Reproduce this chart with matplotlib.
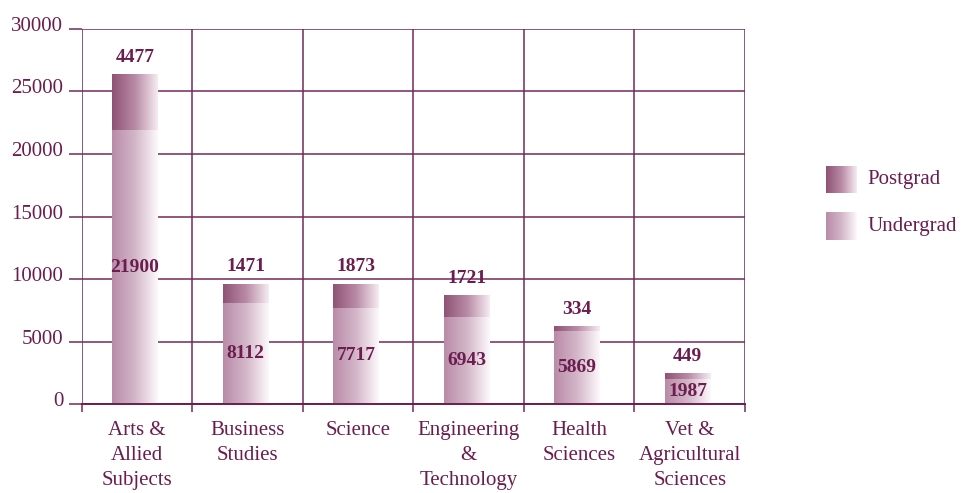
import numpy as np
import matplotlib.pyplot as plt
from matplotlib.colors import LinearSegmentedColormap
from matplotlib.transforms import ScaledTranslation

categories = ['Arts &\nAllied\nSubjects', 'Business\nStudies', 'Science',
              'Engineering\n&\nTechnology', 'Health\nSciences',
              'Vet &\nAgricultural\nSciences']
undergrad = [21900, 8112, 7717, 6943, 5869, 1987]
postgrad = [4477, 1471, 1873, 1721, 334, 449]
yticks = [0, 5000, 10000, 15000, 20000, 25000, 30000]

purple = '#6b1d4f'
line_c = '#74295a'
pg_cmap = LinearSegmentedColormap.from_list('pg', ['#8f5275', '#b88aa5', '#f6ecf2'])
ug_cmap = LinearSegmentedColormap.from_list('ug', ['#b98ba8', '#d3b6c8', '#fdf9fb'])

plt.rcParams['font.family'] = ['Liberation Serif', 'DejaVu Serif']

fig = plt.figure(figsize=(9.68, 4.93), dpi=100)
ax = fig.add_axes([0.0847, 0.1805, 0.6849, 0.7607])

x = np.arange(len(categories))
w = 0.41
grad = np.linspace(0, 1, 256).reshape(1, -1)

ub = ax.bar(x - 0.02, undergrad, w, color='none', edgecolor='none', zorder=3)
pb = ax.bar(x - 0.02, postgrad, w, bottom=undergrad, color='none', edgecolor='none', zorder=3)

for bars, cm in ((ub, ug_cmap), (pb, pg_cmap)):
    for b in bars:
        x0, y0 = b.get_x(), b.get_y()
        ax.imshow(grad, cmap=cm, aspect='auto', zorder=3,
                  extent=[x0, x0 + b.get_width(), y0, y0 + b.get_height()])

for i in range(len(categories)):
    ax.text(x[i] - 0.02, undergrad[i] / 2, str(undergrad[i]), ha='center', va='center',
            fontsize=14, fontweight='bold', color=purple, zorder=5)
    ax.text(x[i] - 0.02, undergrad[i] + postgrad[i] + 700, str(postgrad[i]), ha='center',
            va='bottom', fontsize=14, fontweight='bold', color=purple, zorder=5)

ax.set_xlim(-0.5, len(categories) - 0.5)
ax.set_ylim(0, 30000)
ax.set_yticks(yticks)
ax.set_yticklabels([str(v) for v in yticks])
ax.set_xticks(x)
ax.set_xticklabels(categories, linespacing=1.45)
ax.set_xticks(np.arange(len(categories) + 1) - 0.5, minor=True)

ax.grid(axis='y', color=line_c, lw=1.1, zorder=1)
ax.grid(axis='x', which='minor', color=line_c, lw=1.1, zorder=1)
ax.set_axisbelow(True)
for s in ['top', 'right', 'left']:
    ax.spines[s].set_visible(False)
ax.spines['bottom'].set_color(purple)
ax.spines['bottom'].set_linewidth(1.4)
ax.spines['bottom'].set_zorder(4)

ax.tick_params(axis='y', length=9.5, width=1.1, color=line_c, labelcolor=purple,
               labelsize=15, pad=4)
ax.tick_params(axis='x', which='major', length=0, labelcolor=purple, labelsize=15, pad=12)
ax.tick_params(axis='x', which='minor', length=6, width=1.1, color=line_c)

off = ScaledTranslation(0, 5 / 100, fig.dpi_scale_trans)
for lab in ax.get_yticklabels():
    lab.set_transform(lab.get_transform() + off)

# legend
for (yb, cm, name) in ((0.608, pg_cmap, 'Postgrad'), (0.513, ug_cmap, 'Undergrad')):
    lax = fig.add_axes([0.853, yb, 0.032, 0.056])
    lax.imshow(grad, cmap=cm, aspect='auto')
    lax.axis('off')
    fig.text(0.896, yb + 0.028, name, color=purple, fontsize=15, va='center')

fig.savefig('out.png', dpi=100)
